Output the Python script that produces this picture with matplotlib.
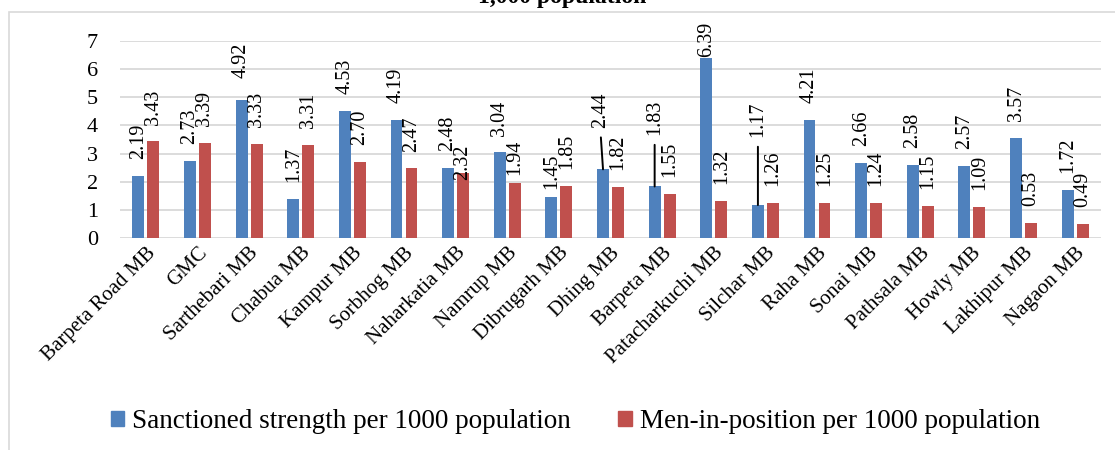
import matplotlib.pyplot as plt
import numpy as np
from matplotlib.patches import Patch, Rectangle

plt.rcParams['font.family'] = ['Liberation Serif', 'DejaVu Serif']

towns = ["Barpeta Road MB", "GMC", "Sarthebari MB", "Chabua MB", "Kampur MB",
         "Sorbhog MB", "Naharkatia MB", "Namrup MB", "Dibrugarh MB", "Dhing MB",
         "Barpeta MB", "Patacharkuchi MB", "Silchar MB", "Raha MB", "Sonai MB",
         "Pathsala MB", "Howly MB", "Lakhipur MB", "Nagaon MB"]
sanctioned = [2.19, 2.73, 4.92, 1.37, 4.53, 4.19, 2.48, 3.04, 1.45, 2.44,
              1.83, 6.39, 1.17, 4.21, 2.66, 2.58, 2.57, 3.57, 1.72]
in_position = [3.43, 3.39, 3.33, 3.31, 2.70, 2.47, 2.32, 1.94, 1.85, 1.82,
               1.55, 1.32, 1.26, 1.25, 1.24, 1.15, 1.09, 0.53, 0.49]
series_names = ["Sanctioned strength per 1000 population",
                "Men-in-position per 1000 population"]

blue = "#4F81BD"
red = "#C0504D"
gray = "#D9D9D9"

# labels that were dragged by hand in the original (gap above bar in points)
default_gap = 12.2
moved = {(0, 2): 15.8, (1, 6): -5, (1, 7): 5.8, (0, 8): 5.8, (0, 9): 30,
         (0, 10): 37, (0, 11): 0.7, (0, 12): 49}
leaders = [(0, 9), (0, 10), (0, 12)]
nudge_x = {(0, 9): -2}

fig = plt.figure(figsize=(11.15, 4.5), dpi=100)
ax = fig.add_axes([120 / 1115, 1 - 238 / 450, 981 / 1115, 197 / 450])

x = np.arange(len(towns))
w = 0.23
off = 0.145
for s, (vals, col) in enumerate([(sanctioned, blue), (in_position, red)]):
    xs = x - off if s == 0 else x + off
    ax.bar(xs, vals, width=w, color=col, zorder=3)
    for i, v in enumerate(vals):
        gap = moved.get((s, i), default_gap)
        arrow = None
        if (s, i) in leaders:
            arrow = dict(arrowstyle='-', color='black', lw=1.4, shrinkA=5,
                         shrinkB=0, relpos=(0.5, 0))
        ax.annotate(f"{v:.2f}", xy=(xs[i], v), xytext=(nudge_x.get((s, i), 0), gap),
                    textcoords='offset points', rotation=90, ha='center',
                    va='bottom', fontsize=14.5, arrowprops=arrow, zorder=4)

ax.set_xlim(-0.5, len(towns) - 0.5)
ax.set_ylim(0, 7)
ax.set_yticks(range(8))
ax.grid(axis='y', color=gray, lw=1.3, zorder=0)
for sp in ax.spines.values():
    sp.set_visible(False)
ax.tick_params(axis='y', length=0, pad=16, labelsize=16)
ax.tick_params(axis='x', length=0, pad=4)
ax.set_xticks(x)
ax.set_xticklabels(towns, rotation=45, ha='right', rotation_mode='anchor', fontsize=15)

handles = [Patch(color=blue, label=series_names[0]), Patch(color=red, label=series_names[1])]
fig.legend(handles=handles, loc='center', bbox_to_anchor=(0.516, 0.063), ncol=2,
           frameon=False, fontsize=19.5, handlelength=0.5, handleheight=0.5,
           handletextpad=0.3, columnspacing=1.75)

fig.text(0.504, 1 - 3.5 / 450, "1,000 population", ha='center', va='baseline',
         fontsize=17, fontweight='bold')
fig.patches.append(Rectangle((9 / 1115, -0.05), 1.2, 1.05 - 12 / 450,
                             transform=fig.transFigure, fill=False,
                             edgecolor=gray, lw=1.2))

fig.savefig("out.png", dpi=100)
